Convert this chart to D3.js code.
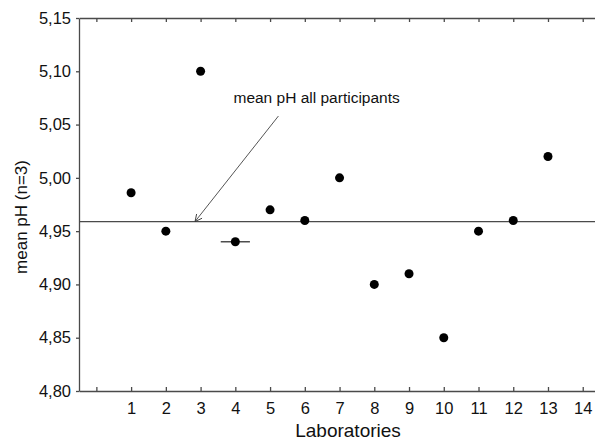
<!DOCTYPE html>
<html>
<head>
<meta charset="utf-8">
<script src="https://cdn.jsdelivr.net/npm/d3@7"></script>
<style>
  body { margin: 0; background: #fff; }
  svg { display: block; font-family: "Liberation Sans", Arial, sans-serif; }
</style>
</head>
<body>
<div id="chart"></div>
<script>
// data
const labs = [1, 2, 3, 4, 5, 6, 7, 8, 9, 10, 11, 12, 13];
const meanPH = [4.986, 4.95, 5.10, 4.94, 4.97, 4.96, 5.00, 4.90, 4.91, 4.85, 4.95, 4.96, 5.02];
const overallMean = 4.959;
const xTicks = [0, 1, 2, 3, 4, 5, 6, 7, 8, 9, 10, 11, 12, 13, 14];
const yTicks = [4.80, 4.85, 4.90, 4.95, 5.00, 5.05, 5.10, 5.15];
// horizontal whisker seen on lab 4
const whiskerLab = [4];
const whiskerHalf = [0.42];

const width = 595;
const height = 445;
const margin = {left: 79, top: 18, bottom: 54};
const axisColor = "#4a4a4a";

const svg = d3.select("#chart")
  .append("svg")
  .attr("width", width)
  .attr("height", height);

// scales
let xScale = d3.scaleLinear()
  .domain([-0.5, 14.5])
  .range([margin.left, margin.left + 15 * 34.74]);

let yScale = d3.scaleLinear()
  .domain([4.80, 5.15])
  .range([height - margin.bottom, margin.top]);

const fmt = d => d3.format(".2f")(d).replace(".", ",");

// left axis
const yAxis = svg.append("g")
  .attr("transform", `translate(${margin.left},0)`)
  .call(d3.axisLeft(yScale).tickValues(yTicks).tickFormat(fmt)
        .tickSizeInner(3).tickSizeOuter(0).tickPadding(5));
yAxis.selectAll("text").attr("font-size", "16.5px").attr("fill", "#111");

// bottom axis, ticks pointing inward
const xAxis = svg.append("g")
  .attr("transform", `translate(0,${height - margin.bottom})`)
  .call(d3.axisBottom(xScale).tickValues(xTicks)
        .tickFormat(d => d === 0 ? "" : d)
        .tickSizeInner(-4).tickSizeOuter(0).tickPadding(11));
xAxis.selectAll("text").attr("font-size", "16.5px").attr("fill", "#111");

// top axis with inward ticks, no labels
const topAxis = svg.append("g")
  .attr("transform", `translate(0,${margin.top})`)
  .call(d3.axisTop(xScale).tickValues(xTicks).tickFormat("")
        .tickSizeInner(-4).tickSizeOuter(0));

svg.selectAll(".domain, .tick line")
  .attr("stroke", axisColor)
  .attr("stroke-width", 1.3);

// mean line
svg.append("line")
  .attr("x1", xScale(-0.5))
  .attr("x2", xScale(14.5))
  .attr("y1", yScale(overallMean))
  .attr("y2", yScale(overallMean))
  .attr("stroke", axisColor)
  .attr("stroke-width", 1.2);

// whiskers
svg.selectAll(".whisker")
  .data(whiskerLab)
  .enter()
  .append("line")
    .attr("class", "whisker")
    .attr("x1", (d, i) => xScale(d - whiskerHalf[i]))
    .attr("x2", (d, i) => xScale(d + whiskerHalf[i]))
    .attr("y1", (d) => yScale(meanPH[labs.indexOf(d)]))
    .attr("y2", (d) => yScale(meanPH[labs.indexOf(d)]))
    .attr("stroke", "#222")
    .attr("stroke-width", 1.2);

// points
svg.selectAll(".dot")
  .data(labs)
  .enter()
  .append("circle")
    .attr("class", "dot")
    .attr("cx", (d) => xScale(d))
    .attr("cy", (d, i) => yScale(meanPH[i]))
    .attr("r", 4.5)
    .attr("fill", "#000");

// annotation with arrow
svg.append("defs").append("marker")
  .attr("id", "arrow")
  .attr("viewBox", "0 0 10 10")
  .attr("refX", 10).attr("refY", 5)
  .attr("markerWidth", 10).attr("markerHeight", 7)
  .attr("markerUnits", "userSpaceOnUse")
  .attr("orient", "auto")
  .append("path")
    .attr("d", "M0,0 L10,5 L0,10")
    .attr("fill", "none")
    .attr("stroke", "#333")
    .attr("stroke-width", 1.2);

svg.append("line")
  .attr("x1", xScale(5.24))
  .attr("y1", yScale(5.058))
  .attr("x2", xScale(2.84))
  .attr("y2", yScale(overallMean))
  .attr("stroke", "#555")
  .attr("stroke-width", 1)
  .attr("marker-end", "url(#arrow)");

svg.append("text")
  .attr("x", xScale(6.34))
  .attr("y", yScale(5.07))
  .attr("text-anchor", "middle")
  .attr("font-size", "15.5px")
  .attr("fill", "#111")
  .text("mean pH all participants");

// axis titles
svg.append("text")
  .attr("x", 348)
  .attr("y", 437)
  .attr("text-anchor", "middle")
  .attr("font-size", "19px")
  .attr("fill", "#111")
  .text("Laboratories");

svg.append("text")
  .attr("transform", `translate(27,${217}) rotate(-90)`)
  .attr("text-anchor", "middle")
  .attr("font-size", "17px")
  .attr("fill", "#111")
  .text("mean pH (n=3)");
</script>
</body>
</html>
